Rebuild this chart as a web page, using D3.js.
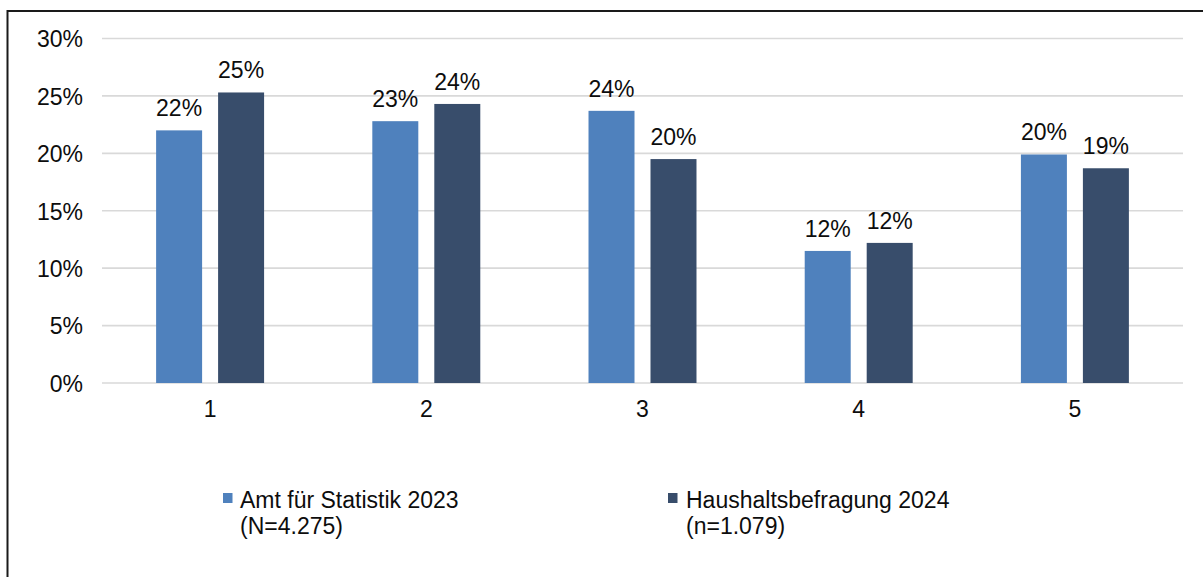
<!DOCTYPE html>
<html>
<head>
<meta charset="utf-8">
<script src="https://cdn.jsdelivr.net/npm/d3@7"></script>
<style>
  html, body { margin: 0; padding: 0; background: #fff; }
  svg { display: block; }
  text { font-family: "Liberation Sans", Arial, sans-serif; fill: #0d0d0d; }
</style>
</head>
<body>
<svg id="chart" width="1203" height="577"></svg>
<script>
// ---- data ----
const categories = ["1", "2", "3", "4", "5"];
const seriesNames = ["Amt für Statistik 2023", "Haushaltsbefragung 2024"];
const seriesSub = ["(N=4.275)", "(n=1.079)"];
const amt2023 = [0.22, 0.228, 0.237, 0.115, 0.199];
const hh2024 = [0.253, 0.243, 0.195, 0.122, 0.187];
const labels2023 = ["22%", "23%", "24%", "12%", "20%"];
const labels2024 = ["25%", "24%", "20%", "12%", "19%"];
const yTicks = [0, 0.05, 0.10, 0.15, 0.20, 0.25, 0.30];

(function () {
const colors = ["#4f81bd", "#384d6b"];
const series = [
  { name: seriesNames[0], sub: seriesSub[0], values: amt2023, labels: labels2023, color: colors[0] },
  { name: seriesNames[1], sub: seriesSub[1], values: hh2024, labels: labels2024, color: colors[1] }
];

const svg = d3.select("#chart");
const plotLeft = 102, plotRight = 1183, plotTop = 38.5, plotBottom = 383;
const fs = 23;

// frame (extends beyond visible area right/bottom)
svg.append("rect")
  .attr("x", 7.5).attr("y", 11).attr("width", 1300).attr("height", 700)
  .attr("fill", "none").attr("stroke", "#1a1a1a").attr("stroke-width", 2);

const x0 = d3.scaleBand().domain(categories).range([plotLeft, plotRight]).paddingInner(0).paddingOuter(0);
const x1 = d3.scaleBand().domain([0, 1]).range([0, x0.bandwidth()]).paddingInner(0.258).paddingOuter(0.873);
const y = d3.scaleLinear().domain([0, 0.30]).range([plotBottom, plotTop]);

// gridlines
svg.append("g").selectAll("line").data(yTicks).join("line")
  .attr("x1", plotLeft).attr("x2", plotRight)
  .attr("y1", d => y(d)).attr("y2", d => y(d))
  .attr("stroke", "#d9d9d9").attr("stroke-width", 1.6);

// y axis labels
const yAxis = d3.axisLeft(y).tickValues(yTicks).tickFormat(d3.format(".0%")).tickSize(0).tickPadding(0);
const gy = svg.append("g").attr("transform", `translate(83,0)`).call(yAxis);
gy.select(".domain").remove();
gy.selectAll("text").attr("font-size", fs).attr("font-family", "Liberation Sans, Arial, sans-serif")
  .attr("fill", "#0d0d0d").attr("dy", "0.36em");

// x axis labels
const xAxis = d3.axisBottom(x0).tickSize(0).tickPadding(0);
const gx = svg.append("g").attr("transform", `translate(0,${plotBottom})`).call(xAxis);
gx.select(".domain").remove();
gx.selectAll("text").attr("font-size", fs).attr("font-family", "Liberation Sans, Arial, sans-serif")
  .attr("fill", "#0d0d0d").attr("dy", 0).attr("y", 34);

// bars
series.forEach((s, si) => {
  const g = svg.append("g");
  g.selectAll("rect").data(categories).join("rect")
    .attr("x", (c) => x0(c) + x1(si))
    .attr("width", x1.bandwidth())
    .attr("y", (c, i) => y(s.values[i]))
    .attr("height", (c, i) => y(0) - y(s.values[i]))
    .attr("fill", s.color);
  g.selectAll("text").data(categories).join("text")
    .attr("x", (c) => x0(c) + x1(si) + x1.bandwidth() / 2)
    .attr("y", (c, i) => y(s.values[i]) - 14)
    .attr("text-anchor", "middle")
    .attr("font-size", fs)
    .text((c, i) => s.labels[i]);
});

// legend
const legendX = [223, 668];
series.forEach((s, si) => {
  const g = svg.append("g").attr("transform", `translate(${legendX[si]},0)`);
  g.append("rect").attr("x", 0).attr("y", 493).attr("width", 9.5).attr("height", 10).attr("fill", s.color);
  const t = g.append("text").attr("x", si === 0 ? 17 : 18).attr("y", 508).attr("font-size", fs);
  t.append("tspan").text(s.name);
  t.append("tspan").attr("x", si === 0 ? 17 : 18).attr("dy", 26).text(s.sub);
});
})();
</script>
</body>
</html>
